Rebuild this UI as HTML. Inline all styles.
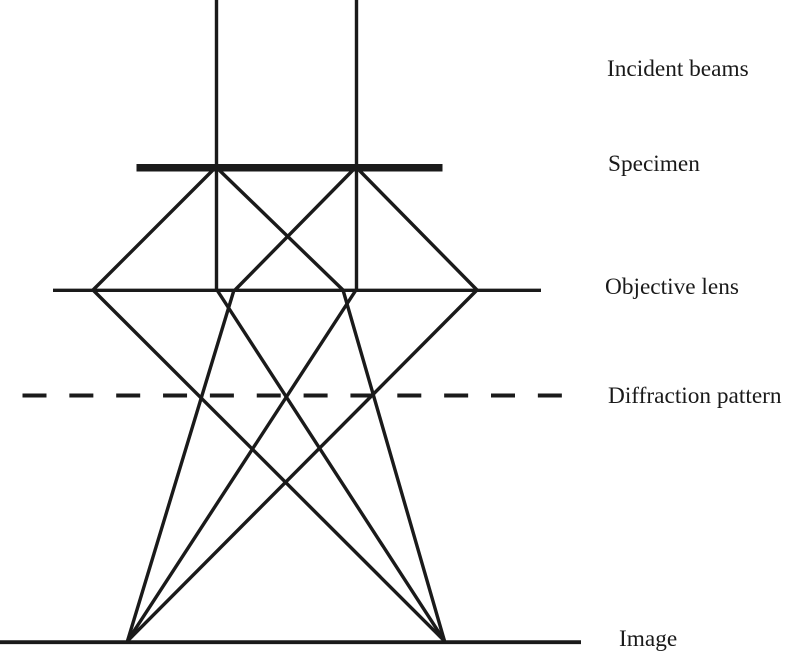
<!DOCTYPE html>
<html><head><meta charset="utf-8"><style>
html,body{margin:0;padding:0;background:#fff;width:787px;height:653px;overflow:hidden}
svg{display:block}
text{font-family:"Liberation Serif",serif;font-size:23.3px;fill:#1a1a1a}
</style></head><body>
<svg width="787" height="653" viewBox="0 0 787 653" xmlns="http://www.w3.org/2000/svg">
<rect width="787" height="653" fill="#fff"/>
<g stroke="#1a1a1a" fill="none" stroke-width="3.4">
<line x1="216.5" y1="0" x2="216.5" y2="290"/>
<line x1="356.5" y1="0" x2="356.5" y2="290"/>
<line x1="53" y1="290.3" x2="541" y2="290.3"/>
<line x1="0" y1="642.2" x2="581" y2="642.2" stroke-width="3.8"/>
<line x1="216" y1="167" x2="93" y2="290"/>
<line x1="216" y1="167" x2="343" y2="290"/>
<line x1="356" y1="167" x2="235" y2="290"/>
<line x1="356" y1="167" x2="477" y2="290"/>
<line x1="93" y1="290" x2="444.5" y2="641"/>
<line x1="217" y1="290" x2="444.5" y2="641"/>
<line x1="343" y1="290" x2="444.5" y2="641"/>
<line x1="234" y1="290" x2="127.5" y2="641"/>
<line x1="356" y1="290" x2="127.5" y2="641"/>
<line x1="477" y1="290" x2="127.5" y2="641"/>
</g>
<rect x="136.5" y="164" width="306" height="7.5" fill="#1a1a1a"/>
<line x1="22.5" y1="395.5" x2="562" y2="395.5" stroke="#1a1a1a" stroke-width="4" stroke-dasharray="24 22.85"/>
<text x="607" y="76">Incident beams</text>
<text x="608" y="171">Specimen</text>
<text x="605" y="294">Objective lens</text>
<text x="608" y="403">Diffraction pattern</text>
<text x="619" y="646">Image</text>
</svg>
</body></html>
